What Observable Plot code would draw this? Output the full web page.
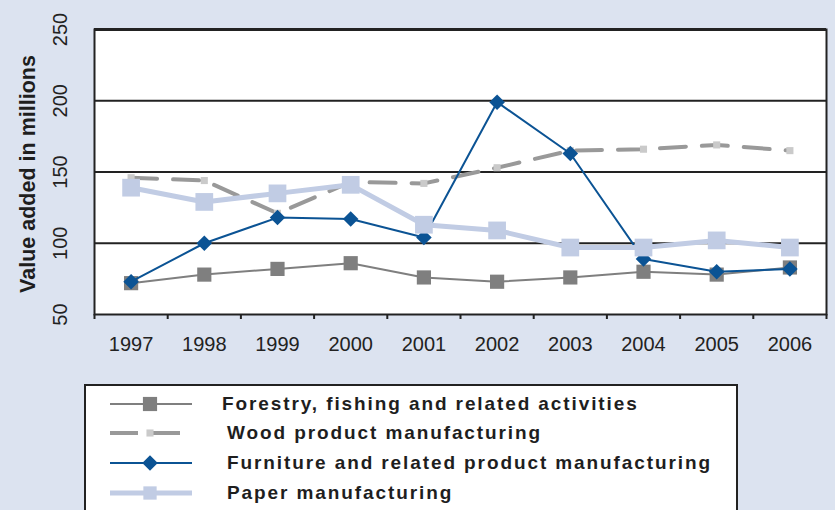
<!DOCTYPE html>
<html>
<head>
<meta charset="utf-8">
<script src="https://cdn.jsdelivr.net/npm/d3@7"></script>
<script src="https://cdn.jsdelivr.net/npm/@observablehq/plot@0.6"></script>
<style>
  body { margin: 0; background: #dce3f0; font-family: "Liberation Sans", Arial, sans-serif; overflow: hidden; }
  #wrap { position: relative; width: 835px; height: 510px; }
  #chart svg { display: block; }
  #legend { position: absolute; left: 84px; top: 384px; width: 654px; height: 150px; background: #fff; border: 2px solid #222; box-sizing: border-box; }
  .row { position: absolute; left: 0; height: 30px; display: flex; align-items: center; }
  .row svg { display: block; margin-left: 22px; }
  .row span { font-weight: bold; font-size: 19px; letter-spacing: 1.9px; color: #1e1e1e; white-space: pre; }
</style>
</head>
<body>
<div id="wrap">
  <div id="chart"></div>
  <div id="legend"></div>
</div>
<script>
// Value added by industry, in millions
const years = [1997, 1998, 1999, 2000, 2001, 2002, 2003, 2004, 2005, 2006];
const forestry  = [72, 78, 82, 86, 76, 73, 76, 80, 78, 83];
const wood      = [146, 144, 121, 143, 142, 153, 165, 166, 169, 165];
const furniture = [73, 100, 118, 117, 104, 199, 163, 89, 80, 82];
const paper     = [139, 129, 135, 141, 113, 109, 97, 97, 102, 97];

const seriesNames = [
  "Forestry, fishing and related activities",
  "Wood product manufacturing",
  "Furniture and related product manufacturing",
  "Paper manufacturing"
];
const yTicks = [50, 100, 150, 200, 250];
const gridValues = [100, 150, 200];
const yTitle = "Value added in millions";

// Drawing styles per series
const styles = [
  {values: forestry,  line: "#7f7f7f", width: 2, dash: null,    symbol: "square",   r: 8,  fill: "#7f7f7f"},
  {values: wood,      line: "#999999", width: 4, dash: "26,16", symbol: "square",   r: 4,  fill: "#cacaca"},
  {values: furniture, line: "#0b5394", width: 2, dash: null,    symbol: "diamond2", r: 7,  fill: "#0b5394"},
  {values: paper,     line: "#c1cce4", width: 5, dash: null,    symbol: "square",   r: 10, fill: "#c1cce4"}
];

const boundaries = [years[0] - 0.5, ...years.map(y => y + 0.5)];

const seriesMarks = styles.flatMap(s => {
  const rows = years.map((y, i) => ({year: y, value: s.values[i]}));
  return [
    Plot.line(rows, {x: "year", y: "value", stroke: s.line, strokeWidth: s.width, strokeDasharray: s.dash ?? undefined}),
    Plot.dot(rows, {x: "year", y: "value", symbol: s.symbol, r: s.r, fill: s.fill, stroke: "none"})
  ];
});

const chart = Plot.plot({
  width: 835,
  height: 384,
  marginTop: 29,
  marginBottom: 70,
  marginLeft: 94,
  marginRight: 9,
  style: {background: "transparent", fontFamily: "'Liberation Sans', Arial, sans-serif"},
  x: {domain: [boundaries[0], boundaries[boundaries.length - 1]]},
  y: {domain: [yTicks[0], yTicks[yTicks.length - 1]], axis: null},
  marks: [
    Plot.frame({fill: "white"}),
    Plot.ruleY(gridValues, {stroke: "#222", strokeWidth: 2}),
    Plot.ruleY([yTicks[yTicks.length - 1]], {stroke: "#222", strokeWidth: 3}),
    Plot.frame({stroke: "#222", strokeWidth: 2}),
    Plot.axisX(boundaries, {tickSize: 5, tickFormat: () => "", label: null, stroke: "#222", strokeWidth: 2}),
    Plot.axisX(years, {tickSize: 0, tickPadding: 22, tickFormat: d => String(d), label: null, fontSize: 20, color: "#222"}),
    Plot.text(yTicks, {y: d => d, text: d => String(d), frameAnchor: "left", textAnchor: "middle", dx: -34, rotate: -90, fontSize: 20, fill: "#222"}),
    Plot.text([yTitle], {text: d => d, frameAnchor: "left", textAnchor: "middle", dx: -66, dy: 2, rotate: -90, fontSize: 21.5, fontWeight: "bold", fill: "#1e1e1e", style: "letter-spacing:1.4px"}),
    ...seriesMarks
  ]
});
document.getElementById("chart").appendChild(chart);

// Legend rows
const legend = d3.select("#legend");
const rowTops = [3, 32, 62, 92];
const textIndent = [0, 5, 5, 5];
seriesNames.forEach((name, i) => {
  const s = styles[i];
  const row = legend.append("div").attr("class", "row").style("top", rowTops[i] + "px");
  const svg = row.append("svg").attr("width", 86).attr("height", 30);
  const line = svg.append("line").attr("x1", 2).attr("x2", 84).attr("y1", 15).attr("y2", 15)
    .attr("stroke", s.line).attr("stroke-width", s.width);
  if (s.dash) line.attr("stroke-dasharray", "28,14");
  const sym = d3.symbol(s.symbol === "diamond2" ? d3.symbolDiamond2 : d3.symbolSquare, Math.PI * (s.r === 10 ? 7.5 : s.r) ** 2);
  svg.append("path").attr("d", sym()).attr("transform", "translate(42,15)").attr("fill", s.fill);
  row.append("span").style("margin-left", (28 + textIndent[i]) + "px").text(name);
});
</script>
</body>
</html>
